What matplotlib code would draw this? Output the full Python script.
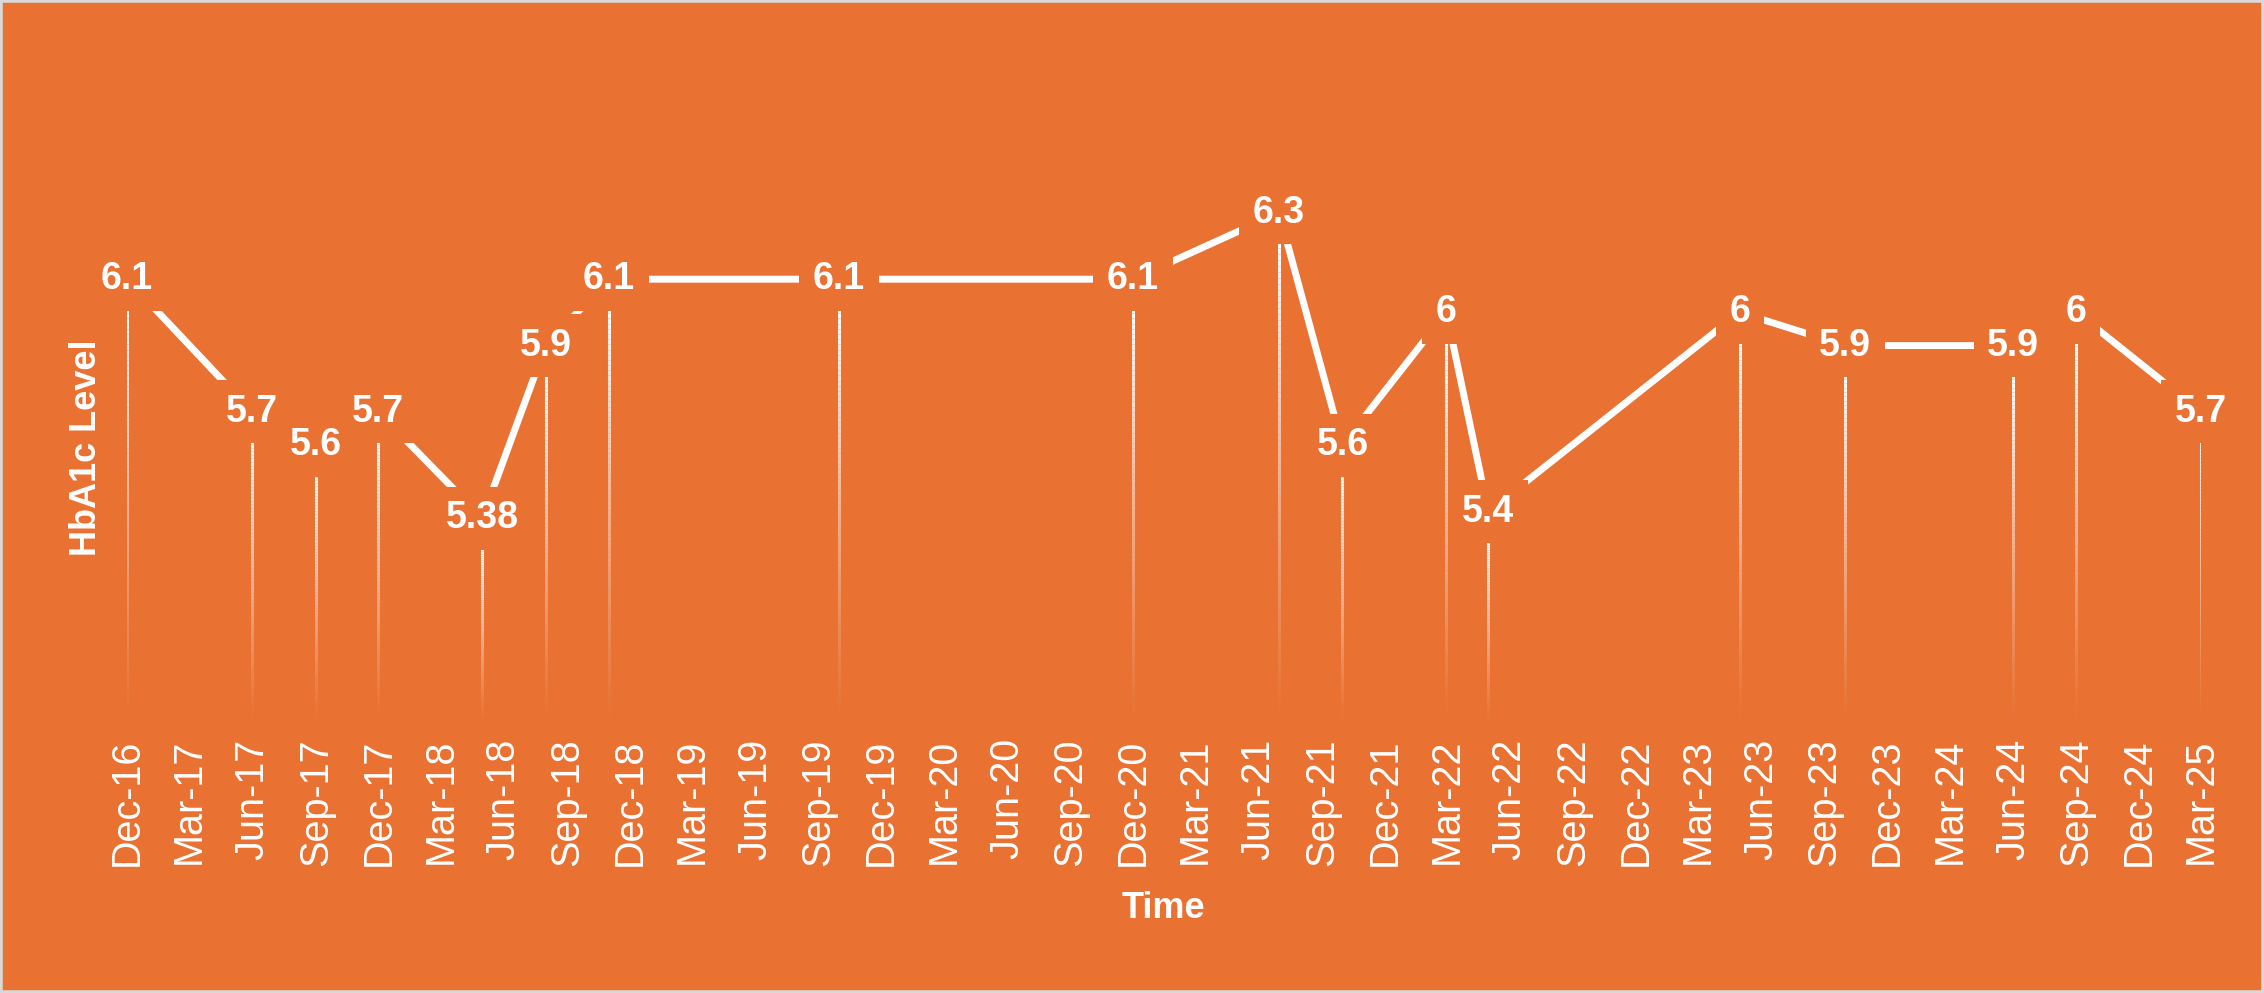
import matplotlib
matplotlib.use('Agg')
import matplotlib.pyplot as plt
import matplotlib.dates as mdates
from matplotlib.collections import LineCollection
from matplotlib.patches import Rectangle
import numpy as np
import pandas as pd


# Дані: місяць аналізу і рівень HbA1c
test_months = ['2016-12', '2017-06', '2017-09', '2017-12', '2018-05', '2018-08',
               '2018-11', '2019-10', '2020-12', '2021-07', '2021-10', '2022-03',
               '2022-05', '2023-05', '2023-10', '2024-06', '2024-09', '2025-03']
hba1c = [6.1, 5.7, 5.6, 5.7, 5.38, 5.9,
         6.1, 6.1, 6.1, 6.3, 5.6, 6.0,
         5.4, 6.0, 5.9, 5.9, 6.0, 5.7]
x_start, x_end = '2016-12-01', '2025-03-01'

bg = '#E97132'
plt.rcParams['font.family'] = ['Liberation Sans', 'DejaVu Sans']

dates = mdates.date2num(pd.to_datetime(test_months))
values = np.array(hba1c)

fig = plt.figure(figsize=(22.64, 9.93), dpi=100, facecolor=bg)
ax = fig.add_axes([0.0561, 0.2719, 0.9161, 0.585])
ax.set_facecolor(bg)
y_min, y_max = 4.85, 6.6
ax.set_ylim(y_min, y_max)
ax.set_xlim(mdates.date2num(pd.Timestamp(x_start)), mdates.date2num(pd.Timestamp(x_end)))


# Вертикальні лінії з градієнтом (зникають донизу)
segs = []
cols = []
n = 80
for xi, yi in zip(dates, values):
    ys = np.linspace(yi, y_min, n + 1)
    for k in range(n):
        segs.append([(xi, ys[k]), (xi, ys[k + 1])])
        cols.append((1, 1, 1, max(0.0, 1 - k / n) ** 1.2))
ax.add_collection(LineCollection(segs, colors=cols, linewidths=2.2, capstyle='butt', zorder=1))


# Лінія через підписи
off = 0.087
ax.plot(dates, values + off, color='white', lw=5, zorder=2, clip_on=False)
for xi, yi in zip(dates, values):
    ax.text(xi, yi + off, f'{yi:g}', ha='center', va='center', fontsize=27,
            fontweight='bold', color='white', zorder=3, clip_on=False,
            bbox=dict(boxstyle='square,pad=0.36', fc=bg, ec='none'))


# Осі
ax.xaxis.set_major_locator(mdates.MonthLocator(bymonth=[3, 6, 9, 12]))
ax.xaxis.set_major_formatter(mdates.DateFormatter('%b-%y'))
ax.tick_params(axis='x', length=0, pad=11, labelsize=28.5, labelcolor='white', labelrotation=90)
ax.set_yticks([])
for s in ax.spines.values():
    s.set_visible(False)

fig.text(87 / 2264, 1 - 448 / 993, 'HbA1c Level', rotation=90, ha='center', va='center',
         fontsize=26, fontweight='bold', color='white')
fig.text(1163 / 2264, 1 - 909 / 993, 'Time', ha='center', va='center',
         fontsize=26, fontweight='bold', color='white')

fig.patches.append(Rectangle((0, 0), 1, 1, transform=fig.transFigure, fill=False,
                             ec='#D9D9D9', lw=4))

fig.savefig('out.png', dpi=100, facecolor=bg)
